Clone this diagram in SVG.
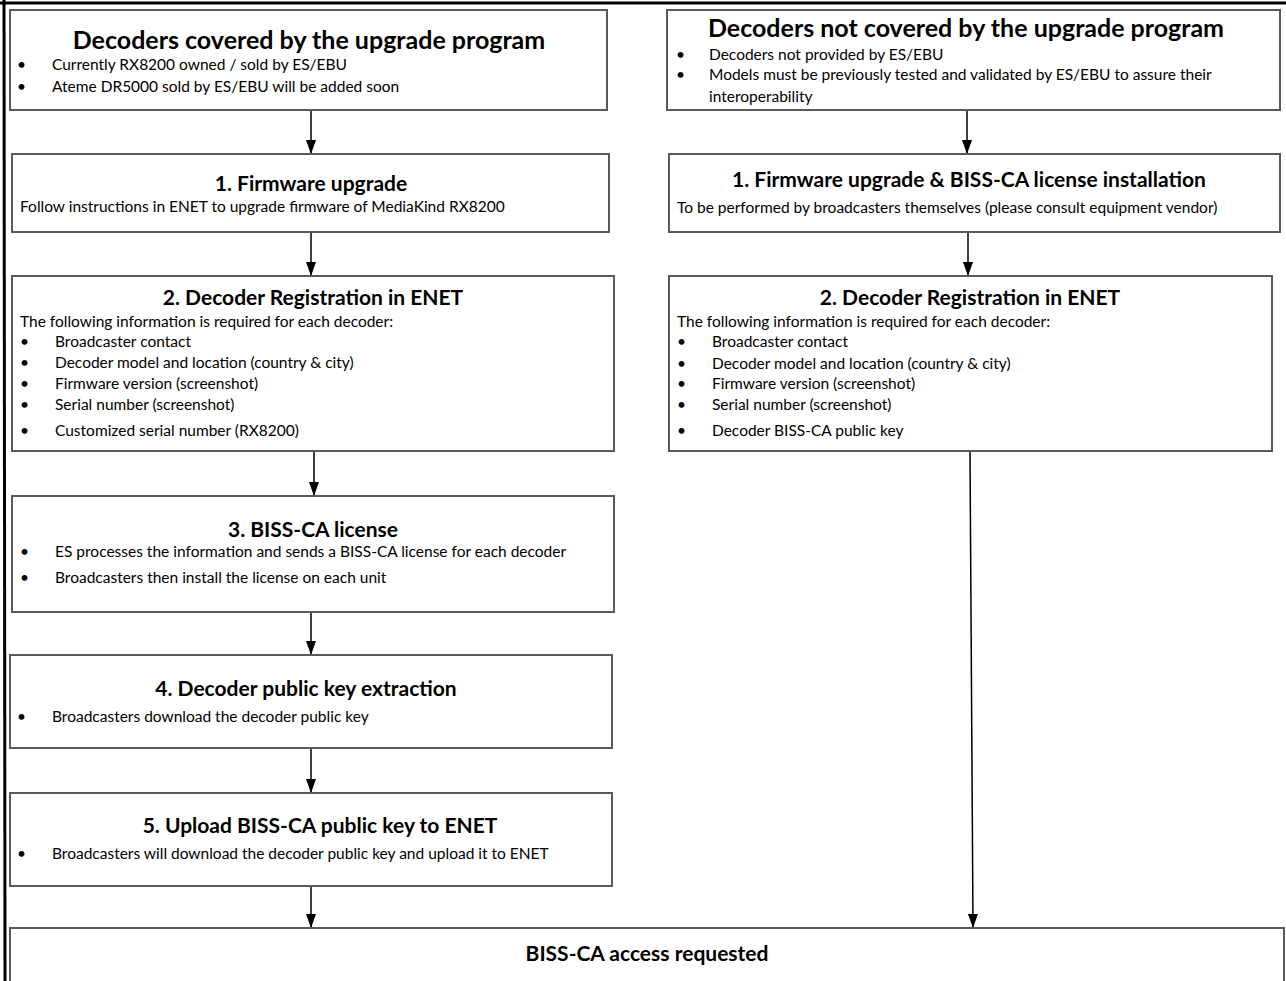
<svg xmlns="http://www.w3.org/2000/svg" width="1286" height="981" viewBox="0 0 1286 981">
<defs>
<marker id="ah" markerWidth="14" markerHeight="10" refX="14" refY="5" orient="auto" markerUnits="userSpaceOnUse" viewBox="0 0 14 10">
<path d="M0,0 L14,5 L0,10 Z" fill="#000"/>
</marker>
<style>
.box{fill:#fff;stroke:#5a5a5a;stroke-width:2}
.t1{font-family:Lato,"Liberation Sans",sans-serif;font-weight:bold;font-size:25px;fill:#000;text-anchor:middle}
.t2{font-family:Lato,"Liberation Sans",sans-serif;font-weight:bold;font-size:21px;fill:#000;text-anchor:middle}
.b{font-family:Lato,"Liberation Sans",sans-serif;font-size:15.5px;fill:#000}
.c{stroke:#000;stroke-width:1.5;fill:none}
</style>
</defs>
<rect width="1286" height="981" fill="#fff"/>
<g id="frame">
<line x1="0" y1="3" x2="1286" y2="3" stroke="#000" stroke-width="3"/>
<line x1="4" y1="0" x2="5" y2="981" stroke="#000" stroke-width="3"/>
</g>
<g id="connectors">
<line class="c" x1="311" y1="110" x2="311" y2="154" marker-end="url(#ah)"/>
<line class="c" x1="311" y1="232" x2="311" y2="276" marker-end="url(#ah)"/>
<line class="c" x1="314" y1="451" x2="314" y2="496" marker-end="url(#ah)"/>
<line class="c" x1="311" y1="612" x2="311" y2="655" marker-end="url(#ah)"/>
<line class="c" x1="311" y1="748" x2="311" y2="793" marker-end="url(#ah)"/>
<line class="c" x1="311" y1="886" x2="311" y2="928" marker-end="url(#ah)"/>
<line class="c" x1="967" y1="110" x2="967" y2="154" marker-end="url(#ah)"/>
<line class="c" x1="968" y1="232" x2="968" y2="276" marker-end="url(#ah)"/>
<line class="c" x1="970" y1="451" x2="973" y2="928" marker-end="url(#ah)"/>
</g>
<g id="covered">
<rect class="box" x="10" y="10" width="597" height="100"/>
<text class="t1" x="309" y="49">Decoders covered by the upgrade program</text>
<text class="b" x="17" y="70">•</text><text class="b" x="52" y="70">Currently RX8200 owned / sold by ES/EBU</text>
<text class="b" x="17" y="92">•</text><text class="b" x="52" y="92">Ateme DR5000 sold by ES/EBU will be added soon</text>
</g>
<g id="notcovered">
<rect class="box" x="667" y="10" width="613" height="100"/>
<text class="t1" x="966" y="37">Decoders not covered by the upgrade program</text>
<text class="b" x="676" y="60">•</text><text class="b" x="709" y="60">Decoders not provided by ES/EBU</text>
<text class="b" x="676" y="80">•</text><text class="b" x="709" y="80">Models must be previously tested and validated by ES/EBU to assure their</text>
<text class="b" x="709" y="102">interoperability</text>
</g>
<g id="fw-left">
<rect class="box" x="12" y="154" width="597" height="78"/>
<text class="t2" x="311" y="191">1. Firmware upgrade</text>
<text class="b" x="20" y="212">Follow instructions in ENET to upgrade firmware of MediaKind RX8200</text>
</g>
<g id="fw-right">
<rect class="box" x="669" y="154" width="611" height="78"/>
<text class="t2" x="969" y="187">1. Firmware upgrade &amp; BISS-CA license installation</text>
<text class="b" x="677" y="213">To be performed by broadcasters themselves (please consult equipment vendor)</text>
</g>
<g id="reg-left">
<rect class="box" x="12" y="276" width="602" height="175"/>
<text class="t2" x="313" y="305">2. Decoder Registration in ENET</text>
<text class="b" x="20" y="327">The following information is required for each decoder:</text>
<text class="b" x="20" y="347">•</text><text class="b" x="55" y="347">Broadcaster contact</text>
<text class="b" x="20" y="368">•</text><text class="b" x="55" y="368">Decoder model and location (country &amp; city)</text>
<text class="b" x="20" y="389">•</text><text class="b" x="55" y="389">Firmware version (screenshot)</text>
<text class="b" x="20" y="410">•</text><text class="b" x="55" y="410">Serial number (screenshot)</text>
<text class="b" x="20" y="436">•</text><text class="b" x="55" y="436">Customized serial number (RX8200)</text>
</g>
<g id="reg-right">
<rect class="box" x="669" y="276" width="603" height="175"/>
<text class="t2" x="970" y="305">2. Decoder Registration in ENET</text>
<text class="b" x="677" y="327">The following information is required for each decoder:</text>
<text class="b" x="677" y="347">•</text><text class="b" x="712" y="347">Broadcaster contact</text>
<text class="b" x="677" y="369">•</text><text class="b" x="712" y="369">Decoder model and location (country &amp; city)</text>
<text class="b" x="677" y="389">•</text><text class="b" x="712" y="389">Firmware version (screenshot)</text>
<text class="b" x="677" y="410">•</text><text class="b" x="712" y="410">Serial number (screenshot)</text>
<text class="b" x="677" y="436">•</text><text class="b" x="712" y="436">Decoder BISS-CA public key</text>
</g>
<g id="license">
<rect class="box" x="12" y="496" width="602" height="116"/>
<text class="t2" x="313" y="537">3. BISS-CA license</text>
<text class="b" x="20" y="557">•</text><text class="b" x="55" y="557">ES processes the information and sends a BISS-CA license for each decoder</text>
<text class="b" x="20" y="583">•</text><text class="b" x="55" y="583">Broadcasters then install the license on each unit</text>
</g>
<g id="extract">
<rect class="box" x="10" y="655" width="602" height="93"/>
<text class="t2" x="306" y="696">4. Decoder public key extraction</text>
<text class="b" x="17" y="722">•</text><text class="b" x="52" y="722">Broadcasters download the decoder public key</text>
</g>
<g id="upload">
<rect class="box" x="10" y="793" width="602" height="93"/>
<text class="t2" x="320" y="833">5. Upload BISS-CA public key to ENET</text>
<text class="b" x="17" y="859">•</text><text class="b" x="52" y="859">Broadcasters will download the decoder public key and upload it to ENET</text>
</g>
<g id="access">
<rect class="box" x="10" y="928" width="1274" height="60"/>
<text class="t2" x="647" y="961">BISS-CA access requested</text>
</g>
</svg>
